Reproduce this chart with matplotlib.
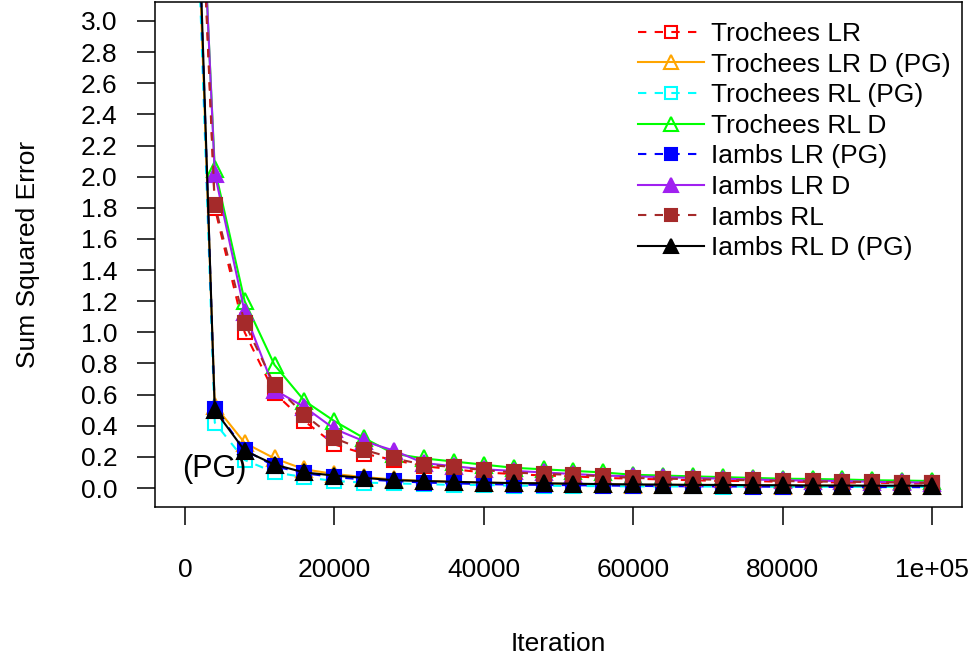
import matplotlib
matplotlib.use("Agg")
import matplotlib.pyplot as plt

plt.rcParams["font.family"] = ["Liberation Sans", "DejaVu Sans"]

# ====== data ======
iterations = list(range(0, 100001, 4000))

trochees_lr = [6.3, 1.80, 1.00, 0.61, 0.43, 0.28, 0.22, 0.18, 0.14, 0.12, 0.10,
               0.09, 0.08, 0.075, 0.065, 0.06, 0.055, 0.05, 0.045, 0.045, 0.04,
               0.04, 0.035, 0.035, 0.03, 0.03]
trochees_lr_d_pg = [6.1, 0.53, 0.29, 0.19, 0.12, 0.09, 0.07, 0.055, 0.045, 0.04,
                    0.035, 0.03, 0.03, 0.025, 0.025, 0.02, 0.02, 0.02, 0.018,
                    0.018, 0.015, 0.015, 0.015, 0.012, 0.012, 0.012]
trochees_rl_pg = [6.0, 0.42, 0.18, 0.10, 0.07, 0.045, 0.035, 0.03, 0.025, 0.02,
                  0.02, 0.015, 0.015, 0.013, 0.012, 0.011, 0.010, 0.010, 0.009,
                  0.009, 0.008, 0.008, 0.008, 0.007, 0.007, 0.007]
trochees_rl_d = [6.2, 2.05, 1.20, 0.79, 0.56, 0.43, 0.32, 0.22, 0.19, 0.17, 0.15,
                 0.13, 0.12, 0.11, 0.10, 0.085, 0.08, 0.075, 0.07, 0.065, 0.06,
                 0.058, 0.055, 0.05, 0.048, 0.045]
iambs_lr_pg = [6.3, 0.51, 0.245, 0.14, 0.095, 0.07, 0.055, 0.045, 0.035, 0.03,
               0.025, 0.022, 0.02, 0.018, 0.016, 0.014, 0.012, 0.011, 0.010,
               0.009, 0.008, 0.007, 0.007, 0.006, 0.006, 0.005]
iambs_lr_d = [6.3, 2.02, 1.13, 0.63, 0.52, 0.38, 0.30, 0.24, 0.16, 0.14, 0.12,
              0.11, 0.10, 0.09, 0.08, 0.075, 0.07, 0.065, 0.06, 0.055, 0.05,
              0.048, 0.045, 0.04, 0.037, 0.035]
iambs_rl = [6.4, 1.82, 1.06, 0.66, 0.47, 0.32, 0.245, 0.19, 0.15, 0.135, 0.115,
            0.10, 0.09, 0.085, 0.075, 0.065, 0.06, 0.057, 0.052, 0.05, 0.045,
            0.042, 0.04, 0.038, 0.035, 0.032]
iambs_rl_d_pg = [6.4, 0.50, 0.24, 0.15, 0.10, 0.08, 0.065, 0.05, 0.045, 0.04,
                 0.035, 0.032, 0.03, 0.028, 0.025, 0.023, 0.022, 0.02, 0.02,
                 0.018, 0.018, 0.016, 0.016, 0.015, 0.015, 0.015]

# label, values, colour, dashed?, marker, filled?
series = [
    ("Trochees LR", trochees_lr, "red", True, "s", False),
    ("Trochees LR D (PG)", trochees_lr_d_pg, "orange", False, "^", False),
    ("Trochees RL (PG)", trochees_rl_pg, "cyan", True, "s", False),
    ("Trochees RL D", trochees_rl_d, "#00FF00", False, "^", False),
    ("Iambs LR (PG)", iambs_lr_pg, "blue", True, "s", True),
    ("Iambs LR D", iambs_lr_d, "#A020F0", False, "^", True),
    ("Iambs RL", iambs_rl, "#A52A2A", True, "s", True),
    ("Iambs RL D (PG)", iambs_rl_d_pg, "black", False, "^", True),
]

x_ticks = [0, 20000, 40000, 60000, 80000, 100000]
x_tick_labels = ["0", "20000", "40000", "60000", "80000", "1e+05"]
y_ticks = [i / 5 for i in range(16)]

FS = 19

# ====== figure ======
fig = plt.figure(figsize=(9.74, 6.57), dpi=100)
ax = fig.add_axes([155 / 974, 1 - 506.7 / 657, 807 / 974, 504.4 / 657])

for label, values, color, dashed, marker, filled in series:
    ms = 10.5 if marker == "s" else 12
    ax.plot(
        iterations, values,
        color=color,
        linewidth=1.5,
        linestyle=(0, (4, 4)) if dashed else "-",
        marker=marker,
        markersize=ms,
        markerfacecolor=color if filled else "none",
        markeredgecolor=color,
        markeredgewidth=1.5,
        label=label,
    )

ax.text(4000, 0.125, "(PG)", ha="center", va="center", fontsize=22)

ax.set_xlim(-4000, 104000)
ax.set_ylim(-0.12, 3.12)
ax.set_xticks(x_ticks)
ax.set_xticklabels(x_tick_labels)
ax.set_yticks(y_ticks)
ax.set_yticklabels([f"{v:.1f}" for v in y_ticks])

for sp in ax.spines.values():
    sp.set_linewidth(1.1)
ax.tick_params(axis="both", direction="out", length=13, width=1.1,
               labelsize=FS)
ax.tick_params(axis="x", pad=24)
ax.tick_params(axis="y", pad=14)

ax.set_xlabel("Iteration", fontsize=FS, labelpad=36)
ax.set_ylabel("Sum Squared Error", fontsize=FS, labelpad=29.5)

ax.legend(
    loc="upper left",
    bbox_to_anchor=(638 / 974, 1 - 22 / 657),
    bbox_transform=fig.transFigure,
    frameon=False,
    fontsize=FS,
    handlelength=2.5,
    handletextpad=0.25,
    labelspacing=0.25,
    markerscale=0.85,
    borderaxespad=0,
    borderpad=0,
)

fig.savefig("out.png", dpi=100)
